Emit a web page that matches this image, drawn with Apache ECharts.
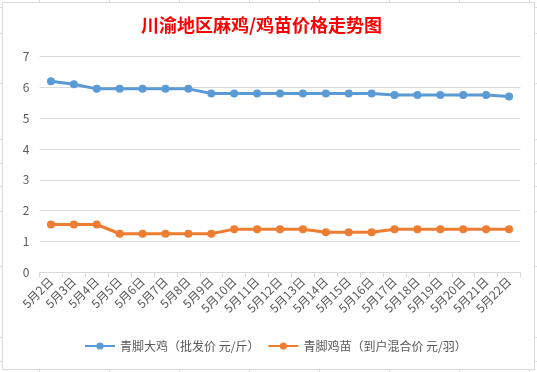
<!DOCTYPE html>
<html><head><meta charset="utf-8">
<script src="https://cdn.jsdelivr.net/npm/echarts@6/dist/echarts.min.js"></script>
<style>html,body{margin:0;padding:0;background:#fff}#c{width:537px;height:372px}</style>
</head><body><div id="c"></div>
<script>
const categories = ['5月2日','5月3日','5月4日','5月5日','5月6日','5月7日','5月8日','5月9日','5月10日','5月11日','5月12日','5月13日','5月14日','5月15日','5月16日','5月17日','5月18日','5月19日','5月20日','5月21日','5月22日'];
const chickenPrice = [6.2,6.1,5.95,5.95,5.95,5.95,5.95,5.8,5.8,5.8,5.8,5.8,5.8,5.8,5.8,5.75,5.75,5.75,5.75,5.75,5.7];
const chickPrice = [1.55,1.55,1.55,1.25,1.25,1.25,1.25,1.25,1.4,1.4,1.4,1.4,1.3,1.3,1.3,1.4,1.4,1.4,1.4,1.4,1.4];
const seriesNames = ['青脚大鸡（批发价 元/斤）','青脚鸡苗（到户混合价 元/羽）'];
const titleText = '川渝地区麻鸡/鸡苗价格走势图';

const font = '"Noto Sans CJK SC", "Microsoft YaHei", sans-serif';
const gray = '#595959';
const lineGray = '#d9d9d9';
const chart = echarts.init(document.getElementById('c'));

const deco = [];
deco.push({type:'rect', shape:{x:2.5,y:2.5,width:532,height:367}, style:{fill:'none',stroke:lineGray,lineWidth:1}, silent:true});
[39.5,109.5,179.5,249.5,319.5,389.5,459.5,529.5].forEach(x=>{
  deco.push({type:'line', shape:{x1:x,y1:0,x2:x,y2:2}, style:{stroke:lineGray}, silent:true});
  deco.push({type:'line', shape:{x1:x,y1:370,x2:x,y2:372}, style:{stroke:lineGray}, silent:true});
});
[7.5,33.5,83.5,139.5,163.5,186.5,211.5,266.5,337.5,361.5].forEach(y=>{
  deco.push({type:'line', shape:{x1:0,y1:y,x2:2,y2:y}, style:{stroke:lineGray}, silent:true});
  deco.push({type:'line', shape:{x1:535,y1:y,x2:537,y2:y}, style:{stroke:lineGray}, silent:true});
});

chart.setOption({
  animation:false,
  backgroundColor:'#fff',
  title:{text:titleText, left:136, top:11, textStyle:{color:'#ff0000', fontSize:18, fontWeight:'bold', fontFamily:font}},
  graphic:deco,
  legend:{
    bottom:15, left:79, itemWidth:30, itemHeight:9, itemGap:8,
    textStyle:{color:gray, fontSize:12, fontFamily:font},
    data:seriesNames
  },
  grid:{left:39.5, right:16.5, top:56.5, height:215.8},
  xAxis:{
    type:'category', data:categories, boundaryGap:true,
    axisLine:{lineStyle:{color:lineGray}},
    axisTick:{show:true, length:5, lineStyle:{color:lineGray}},
    axisLabel:{rotate:45, interval:0, color:gray, fontSize:12, fontFamily:font, margin:7}
  },
  yAxis:{
    type:'value', min:0, max:7, interval:1,
    axisLine:{show:false}, axisTick:{show:false},
    splitLine:{lineStyle:{color:lineGray}},
    axisLabel:{color:gray, fontSize:12, fontFamily:font, margin:10}
  },
  series:[
    {name:seriesNames[0], type:'line', data:chickenPrice, color:'#5B9BD5', symbol:'circle', symbolSize:8, lineStyle:{width:3}},
    {name:seriesNames[1], type:'line', data:chickPrice, color:'#ED7D31', symbol:'circle', symbolSize:8, lineStyle:{width:3}}
  ]
});
</script></body></html>
